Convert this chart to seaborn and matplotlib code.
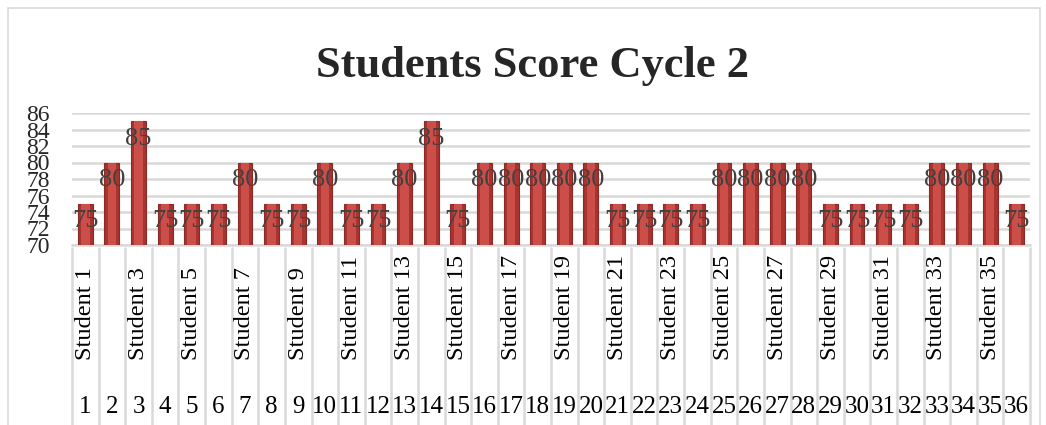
import matplotlib
matplotlib.use("Agg")
import matplotlib.pyplot as plt
import seaborn as sns
import pandas as pd
from matplotlib.patches import Rectangle

# Data
students = [f"Student {i}" for i in range(1, 37)]
numbers = [str(i) for i in range(1, 37)]
scores = [75, 80, 85, 75, 75, 75, 80, 75, 75, 80,
          75, 75, 80, 85, 75, 80, 80, 80, 80, 80,
          75, 75, 75, 75, 80, 80, 80, 80, 75, 75,
          75, 75, 80, 80, 80, 75]
yticks = list(range(70, 87, 2))

df = pd.DataFrame({"student": students, "score": scores})

sns.set_style("white")
plt.rcParams["font.family"] = ["Liberation Serif", "DejaVu Serif"]

fig = plt.figure(figsize=(10.46, 4.25), dpi=100)
ax = fig.add_axes([72 / 1046, 1 - 245 / 425, (1030 - 72) / 1046, (245 - 113) / 425])

# darker outer cylinder + lighter centre stripe for the shaded look
sns.barplot(data=df, x="student", y="score", order=students, color="#A8332F",
            width=0.56, edgecolor="#8A2A27", linewidth=0.8, saturation=1, ax=ax,
            zorder=3)
sns.barplot(data=df, x="student", y="score", order=students, color="#CB4E49",
            width=0.32, linewidth=0, saturation=1, ax=ax, zorder=3)

ax.set_ylim(70, 86)
ax.set_xlim(-0.5, len(students) - 0.5)
ax.set_yticks(yticks)
ax.set_yticklabels([str(t) for t in yticks], fontsize=17)
ax.tick_params(axis="y", length=0, pad=16)
ax.tick_params(axis="x", length=0, labelbottom=False)
ax.set_xlabel("")
ax.set_ylabel("")
ax.grid(axis="y", color="#D9D9D9", linewidth=1.8, zorder=0)
for s in ["left", "right", "top"]:
    ax.spines[s].set_visible(False)
ax.spines["bottom"].set_color("#D9D9D9")
ax.spines["bottom"].set_linewidth(1.8)

# value labels inside the bars near the top
for i, v in enumerate(scores):
    ax.annotate(str(v), (i, v), xytext=(0, -12.5), textcoords="offset points",
                ha="center", va="center", fontsize=19, color="#404040", zorder=4)

# two-level category axis below the plot
tr = ax.get_xaxis_transform()
h_ax = (245 - 113) / 425
def fy(py):
    # pixel row -> axes fraction
    return (245 - py) / 425 / h_ax

for i in range(len(students) + 1):
    ax.plot([i - 0.5, i - 0.5], [fy(248), fy(430)], transform=tr, color="#D9D9D9",
            linewidth=1.8, clip_on=False)
for i, name in enumerate(students):
    if i % 2 == 0:
        ax.text(i, fy(360), name, transform=tr, rotation=90, ha="center", va="bottom",
                fontsize=17.5, color="#000000")
    ax.text(i, fy(407), numbers[i], transform=tr, ha="center", va="center",
            fontsize=18, color="#000000")

fig.text(532 / 1046, 1 - 77 / 425, "Students Score Cycle 2", ha="center", va="baseline",
         fontsize=32, fontweight="bold")

fig.patches.append(Rectangle((8 / 1046, -0.01), (1040 - 8) / 1046, 1 - 8 / 425 + 0.01,
                             transform=fig.transFigure, fill=False, edgecolor="#D9D9D9",
                             linewidth=1.2))

fig.savefig("out.png", dpi=100)
